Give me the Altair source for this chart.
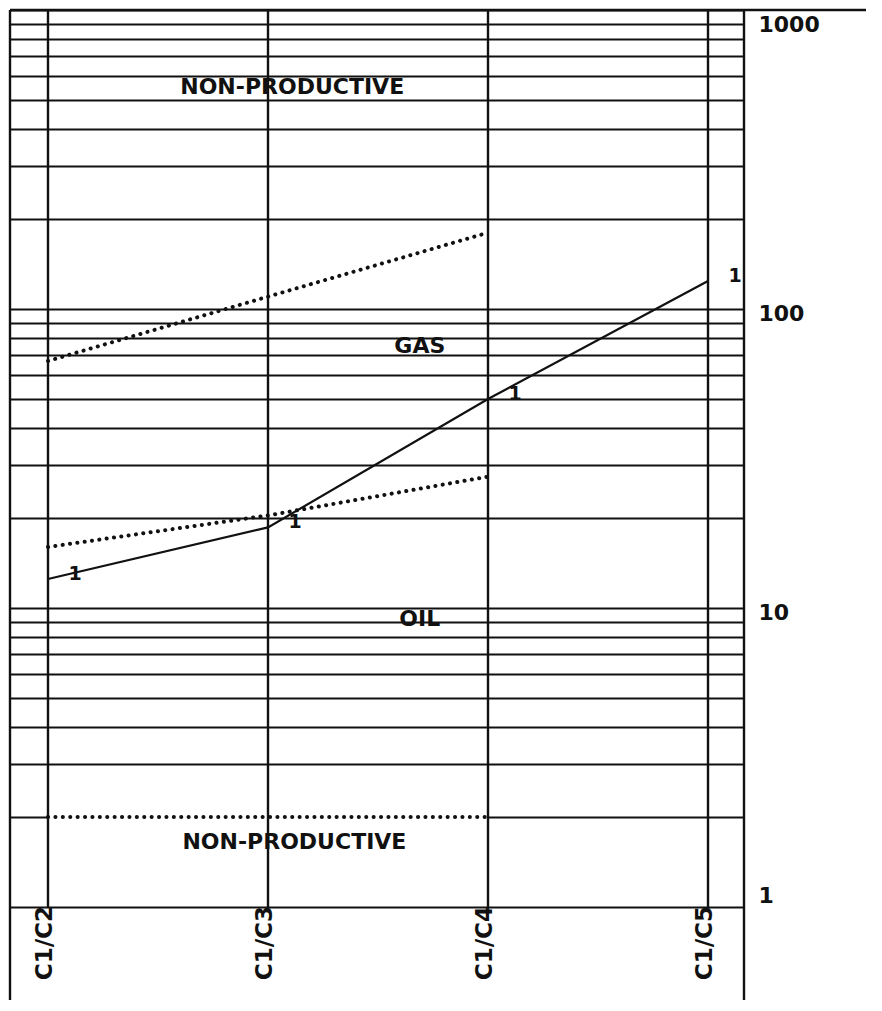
import altair as alt
import pandas as pd

# ---- data ----
categories = ["C1/C2", "C1/C3", "C1/C4", "C1/C5"]
positions = [0, 1, 2, 3]
sample_ratios = [12.5, 18.6, 50, 124]          # plotted sample, series "1"
gas_upper_limit = [67, 110, 180]               # C1/C2 .. C1/C4
gas_oil_boundary = [16, 20.4, 27.5]
oil_lower_limit = [2, 2, 2]
series_marker = ["1", "1", "1", "1"]
grid_values = [m * 10 ** e for e in range(3) for m in range(1, 10)] + [1000]
decade_values = [1, 10, 100, 1000]
zone_names = ["NON-PRODUCTIVE", "GAS", "OIL", "NON-PRODUCTIVE"]
zone_pos = [1.11, 1.69, 1.69, 1.12]
zone_vals = [553, 75, 9.2, 1.65]

X_MIN, X_MAX = -0.1727, 3.1636
Y_MIN, Y_MAX = 0.4887, 1000
W, H = 734, 990
INK = "#111111"
FONT = "DejaVu Sans"

xs = alt.Scale(domain=[X_MIN, X_MAX], nice=False, zero=False)
ys = alt.Scale(type="log", domain=[Y_MIN, Y_MAX], nice=False)
yaxis = alt.Axis(
    orient="right", values=grid_values, title=None, domain=False, ticks=False,
    grid=True, gridColor=INK, gridWidth=2.2, gridOpacity=1,
    labelExpr="indexof([1,10,100,1000], datum.value) >= 0 ? format(datum.value, 'd') : ''",
    labelFont=FONT, labelFontWeight="bold", labelFontSize=22, labelColor=INK,
    labelPadding=14, labelBaseline="middle", labelAlign="left",
    labelOffset={"condition": [{"test": "datum.value == 1000", "value": 14},
                               {"test": "datum.value == 1", "value": -12}],
                 "value": 4},
)


def X(f):
    return alt.X(f, type="quantitative", scale=xs, axis=None)


def Y(f):
    return alt.Y(f, type="quantitative", scale=ys, axis=yaxis)


# frame / helper tables
mask_df = pd.DataFrame({"x": [positions[0]], "x2": [positions[2]], "y": [oil_lower_limit[0]]})
vert_df = pd.DataFrame({"x": positions, "y": [Y_MAX] * 4, "y2": [1] * 4})
border_df = pd.DataFrame({"x": [X_MIN, X_MAX], "y": [Y_MAX] * 2, "y2": [Y_MIN] * 2})
top_df = pd.DataFrame({"y": [Y_MAX]})

bounds = []
for name, vals in [("upper", gas_upper_limit), ("gasoil", gas_oil_boundary), ("lower", oil_lower_limit)]:
    for p, v in zip(positions[:3], vals):
        bounds.append({"x": p, "y": v, "zone": name})
bounds_df = pd.DataFrame(bounds)

sample_df = pd.DataFrame({"x": positions, "y": sample_ratios, "m": series_marker})
zone_df = pd.DataFrame({"x": zone_pos, "y": zone_vals, "t": zone_names})
cat_df = pd.DataFrame({"x": positions, "t": categories, "y": [1] * 4})

mask = alt.Chart(mask_df).mark_rule(color="white", strokeWidth=5).encode(
    x=X("x"), x2="x2:Q", y=Y("y"))
verts = alt.Chart(vert_df).mark_rule(color=INK, strokeWidth=2.4).encode(
    x=X("x"), y=Y("y"), y2="y2:Q")
borders = alt.Chart(border_df).mark_rule(color=INK, strokeWidth=2.4).encode(
    x=X("x"), y=Y("y"), y2="y2:Q")
topline = alt.Chart(top_df).mark_rule(color=INK, strokeWidth=2.4, clip=False).encode(
    y=Y("y"), x=alt.value(0), x2=alt.value(856))
dotted = alt.Chart(bounds_df).mark_line(
    color=INK, strokeWidth=4, strokeDash=[0.1, 7.3], strokeCap="round").encode(
    x=X("x"), y=Y("y"), detail="zone:N")
solid = alt.Chart(sample_df).mark_line(color=INK, strokeWidth=2.2).encode(
    x=X("x"), y=Y("y"))
markers = alt.Chart(sample_df).mark_text(
    font=FONT, fontWeight="bold", fontSize=19, color=INK, dx=27, dy=-5,
    align="center", baseline="middle").encode(x=X("x"), y=Y("y"), text="m:N")
zones = alt.Chart(zone_df).mark_text(
    font=FONT, fontWeight="bold", fontSize=22, color=INK,
    align="center", baseline="middle").encode(x=X("x"), y=Y("y"), text="t:N")
cats = alt.Chart(cat_df).mark_text(
    font=FONT, fontWeight="bold", fontSize=23, color=INK, angle=270,
    align="right", baseline="alphabetic", dx=1, dy=4).encode(
    x=X("x"), y=Y("y"), text="t:N")

chart = alt.layer(
    mask, verts, borders, topline, dotted, solid, markers, zones, cats
).properties(
    width=W, height=H,
    padding={"left": 0, "top": 0, "right": 0, "bottom": 0},
    background="white",
).configure_view(stroke=None)

chart.save("out.html", embed_options={"renderer": "svg", "actions": False})
